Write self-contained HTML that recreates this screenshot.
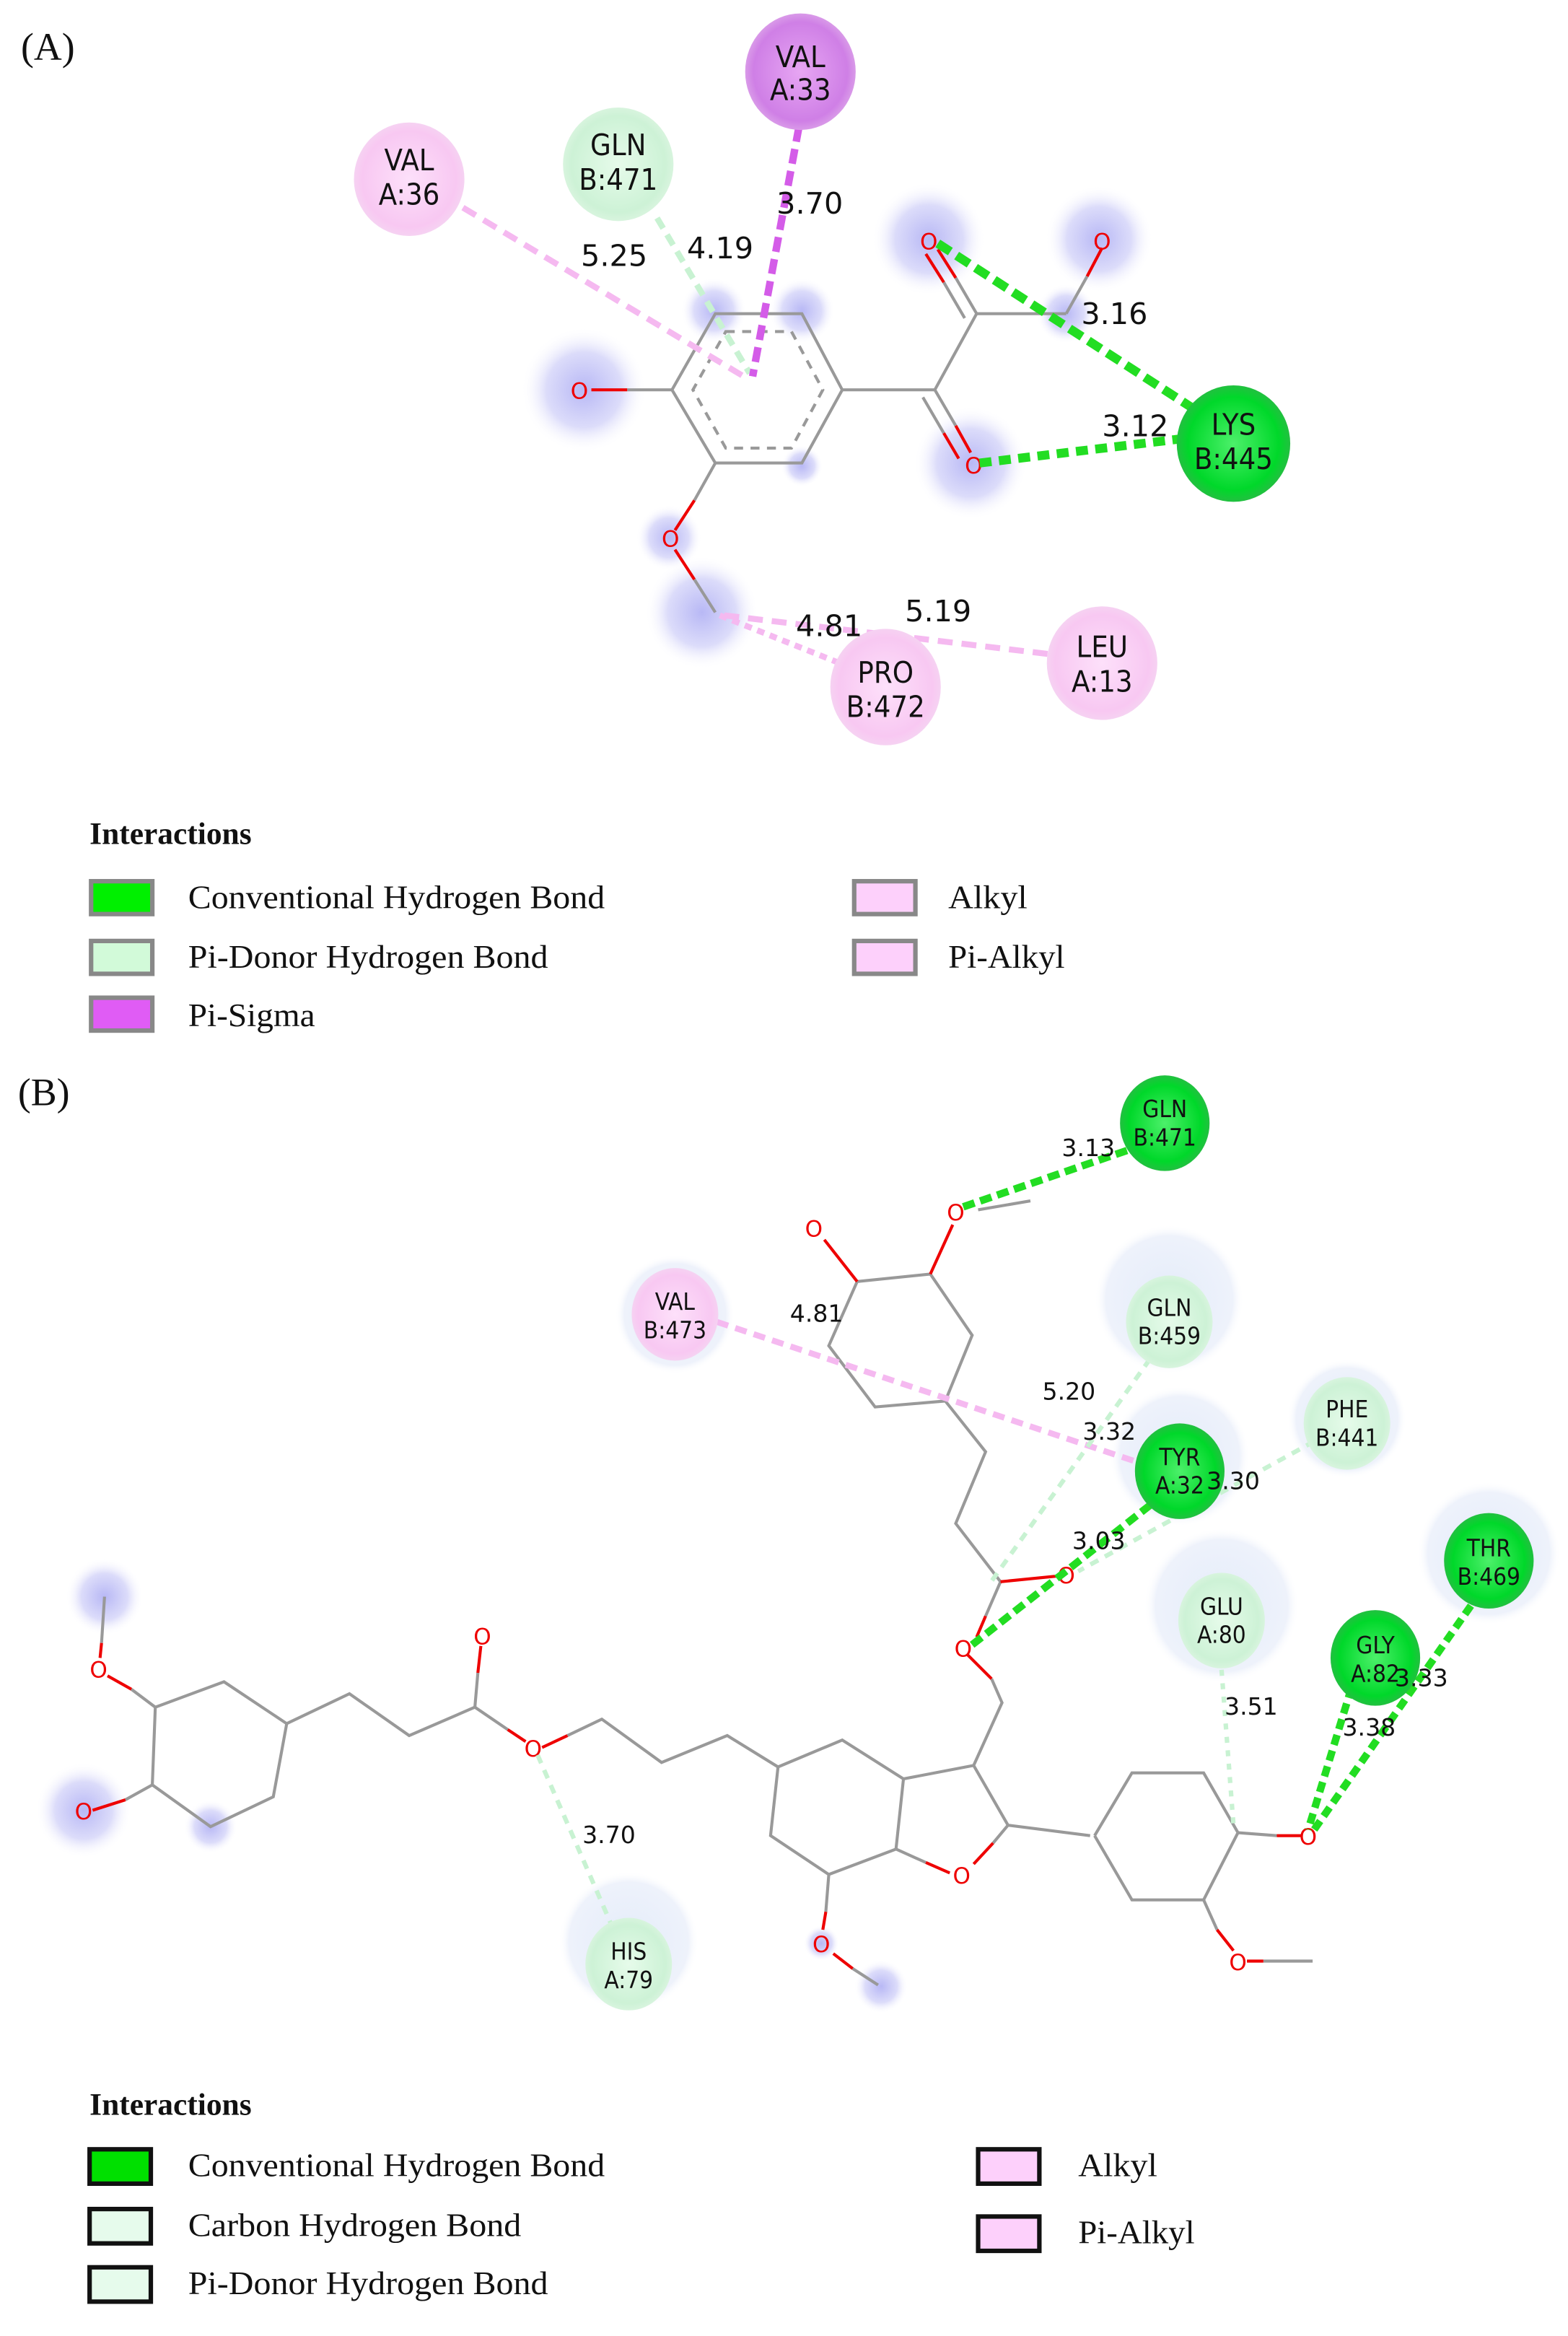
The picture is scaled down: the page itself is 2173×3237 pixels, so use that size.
<!DOCTYPE html>
<html><head><meta charset="utf-8"><style>
html,body{margin:0;padding:0;background:#fff}
svg{display:block}
.lg{font-family:"Liberation Serif",serif;font-size:22px;fill:#111}
.rl{font-family:"DejaVu Sans Condensed","DejaVu Sans",sans-serif;fill:#111;text-anchor:middle}
.d{font-family:"DejaVu Sans","Liberation Sans",sans-serif;fill:#111}
.b{stroke:#999;stroke-width:2;fill:none}
.r{stroke:#e00;stroke-width:2;fill:none}
.o{font-family:"DejaVu Sans",sans-serif;font-size:15px;fill:#e00;text-anchor:middle}
</style></head><body>
<svg width="2173" height="3237" viewBox="0 0 1050 1564" preserveAspectRatio="none" xmlns="http://www.w3.org/2000/svg">
<defs>
<radialGradient id="halo"><stop offset="0" stop-color="#b8b8f5"/><stop offset="0.6" stop-color="#dcdcfa"/><stop offset="1" stop-color="#fff" stop-opacity="0"/></radialGradient>
<radialGradient id="lb"><stop offset="0" stop-color="#e4ecfa"/><stop offset="0.85" stop-color="#eef2fb"/><stop offset="1" stop-color="#fff" stop-opacity="0"/></radialGradient>
<radialGradient id="gr"><stop offset="0" stop-color="#4cf06a"/><stop offset="0.8" stop-color="#00d82a"/><stop offset="1" stop-color="#22c040"/></radialGradient>
<radialGradient id="lg"><stop offset="0" stop-color="#e6fbea"/><stop offset="0.85" stop-color="#cdf2d6"/><stop offset="1" stop-color="#d8f4de"/></radialGradient>
<radialGradient id="pk"><stop offset="0" stop-color="#fde0fa"/><stop offset="0.85" stop-color="#f8c8f2"/><stop offset="1" stop-color="#f6d2f2"/></radialGradient>
<radialGradient id="pu"><stop offset="0" stop-color="#e7a6f3"/><stop offset="0.85" stop-color="#cf7fe6"/><stop offset="1" stop-color="#d99ae8"/></radialGradient>
</defs>

<text x="14" y="40" font-family="Liberation Serif,serif" font-size="26" fill="#111">(A)</text>

<!-- halos A -->
<circle cx="391" cy="261" r="42" fill="url(#halo)"/>
<circle cx="622" cy="160" r="38" fill="url(#halo)"/>
<circle cx="736" cy="160" r="36" fill="url(#halo)"/>
<circle cx="650" cy="310" r="38" fill="url(#halo)"/>
<circle cx="470" cy="410" r="38" fill="url(#halo)"/>
<circle cx="448" cy="360" r="22" fill="url(#halo)"/>
<circle cx="478" cy="208" r="22" fill="url(#halo)"/>
<circle cx="537" cy="208" r="22" fill="url(#halo)"/>
<circle cx="537" cy="312" r="14" fill="url(#halo)"/>
<circle cx="714" cy="210" r="20" fill="url(#halo)"/>

<!-- molecule A -->
<polygon class="b" points="479,210 537,210 564,261 537,310 479,310 450,261"/>
<polygon points="486,222 530,222 551,261 530,300 486,300 464,261" fill="none" stroke="#999" stroke-width="2" stroke-dasharray="6,5"/>
<line class="b" x1="450" y1="261" x2="420" y2="261"/><line class="r" x1="420" y1="261" x2="396" y2="261"/>
<line class="b" x1="564" y1="261" x2="626" y2="261"/>
<line class="b" x1="626" y1="261" x2="640" y2="285"/><line class="r" x1="640" y1="285" x2="650" y2="303"/>
<line class="b" x1="618" y1="266" x2="632" y2="290"/><line class="r" x1="632" y1="290" x2="642" y2="307"/>
<line class="b" x1="626" y1="261" x2="654" y2="210"/>
<line class="b" x1="654" y1="210" x2="640" y2="186"/><line class="r" x1="640" y1="186" x2="628" y2="167"/>
<line class="b" x1="646" y1="213" x2="632" y2="189"/><line class="r" x1="632" y1="189" x2="620" y2="170"/>
<line class="b" x1="654" y1="210" x2="714" y2="210"/>
<line class="b" x1="714" y1="210" x2="728" y2="185"/><line class="r" x1="728" y1="185" x2="738" y2="166"/>
<line class="b" x1="479" y1="310" x2="465" y2="335"/><line class="r" x1="465" y1="335" x2="452" y2="355"/>
<line class="r" x1="452" y1="368" x2="465" y2="388"/><line class="b" x1="465" y1="388" x2="479" y2="410"/>
<text class="o" x="388" y="267">O</text>
<text class="o" x="622" y="167">O</text>
<text class="o" x="738" y="167">O</text>
<text class="o" x="652" y="317">O</text>
<text class="o" x="449" y="366">O</text>

<!-- interactions A -->
<line x1="310" y1="139" x2="498" y2="252" stroke="#f5b9f0" stroke-width="4" stroke-dasharray="10,6"/>
<line x1="440" y1="146" x2="502" y2="250" stroke="#c8f2d2" stroke-width="4" stroke-dasharray="8,5"/>
<line x1="535" y1="85" x2="504" y2="252" stroke="#d45ce8" stroke-width="5" stroke-dasharray="10,5"/>
<line x1="628" y1="163" x2="806" y2="278" stroke="#22dd22" stroke-width="6" stroke-dasharray="10,5"/>
<line x1="656" y1="310" x2="806" y2="292" stroke="#22dd22" stroke-width="6" stroke-dasharray="8,5"/>
<line x1="482" y1="412" x2="590" y2="455" stroke="#f5b9f0" stroke-width="4" stroke-dasharray="5,4"/>
<line x1="485" y1="412" x2="720" y2="440" stroke="#f5b9f0" stroke-width="4" stroke-dasharray="10,6"/>

<!-- residues A -->
<ellipse cx="536" cy="48" rx="37" ry="39" fill="url(#pu)"/>
<text class="rl" x="536" y="45" font-size="20">VAL</text><text class="rl" x="536" y="67" font-size="20">A:33</text>
<ellipse cx="414" cy="110" rx="37" ry="38" fill="url(#lg)"/>
<text class="rl" x="414" y="104" font-size="20">GLN</text><text class="rl" x="414" y="127" font-size="20">B:471</text>
<ellipse cx="274" cy="120" rx="37" ry="38" fill="url(#pk)"/>
<text class="rl" x="274" y="114" font-size="20">VAL</text><text class="rl" x="274" y="137" font-size="20">A:36</text>
<ellipse cx="826" cy="297" rx="38" ry="39" fill="url(#gr)"/>
<text class="rl" x="826" y="291" font-size="20">LYS</text><text class="rl" x="826" y="314" font-size="20">B:445</text>
<ellipse cx="593" cy="460" rx="37" ry="39" fill="url(#pk)"/>
<text class="rl" x="593" y="457" font-size="20">PRO</text><text class="rl" x="593" y="480" font-size="20">B:472</text>
<ellipse cx="738" cy="444" rx="37" ry="38" fill="url(#pk)"/>
<text class="rl" x="738" y="440" font-size="20">LEU</text><text class="rl" x="738" y="463" font-size="20">A:13</text>

<g class="d" font-size="20">
<text x="520" y="143">3.70</text><text x="460" y="173">4.19</text><text x="389" y="178">5.25</text>
<text x="724" y="217">3.16</text><text x="738" y="292">3.12</text>
<text x="533" y="426">4.81</text><text x="606" y="416">5.19</text>
</g>

<!-- legend A -->
<text x="60" y="565" font-family="Liberation Serif,serif" font-size="21" font-weight="bold" fill="#111">Interactions</text>
<g stroke="#888" stroke-width="3">
<rect x="61" y="590" width="41" height="22" fill="#00f000"/>
<rect x="61" y="630" width="41" height="22" fill="#d2fad9"/>
<rect x="61" y="668" width="41" height="22" fill="#e05cf5"/>
<rect x="572" y="590" width="41" height="22" fill="#fdd0fb"/>
<rect x="572" y="630" width="41" height="22" fill="#fdd0fb"/>
</g>
<text class="lg" x="126" y="608" textLength="279" lengthAdjust="spacingAndGlyphs">Conventional Hydrogen Bond</text>
<text class="lg" x="126" y="648" textLength="241" lengthAdjust="spacingAndGlyphs">Pi-Donor Hydrogen Bond</text>
<text class="lg" x="126" y="687" textLength="85" lengthAdjust="spacingAndGlyphs">Pi-Sigma</text>
<text class="lg" x="635" y="608" textLength="53" lengthAdjust="spacingAndGlyphs">Alkyl</text>
<text class="lg" x="635" y="648" textLength="78" lengthAdjust="spacingAndGlyphs">Pi-Alkyl</text>

<!-- ============ B ============ -->
<text x="12" y="740" font-family="Liberation Serif,serif" font-size="26" fill="#111">(B)</text>

<!-- light halos -->
<circle cx="452" cy="880" r="40" fill="url(#lb)"/>
<circle cx="783" cy="870" r="50" fill="url(#lb)"/>
<circle cx="902" cy="950" r="40" fill="url(#lb)"/>
<circle cx="790" cy="975" r="47" fill="url(#lb)"/>
<circle cx="997" cy="1040" r="48" fill="url(#lb)"/>
<circle cx="818" cy="1075" r="52" fill="url(#lb)"/>
<circle cx="421" cy="1300" r="47" fill="url(#lb)"/>
<!-- blue halos -->
<circle cx="70" cy="1069" r="26" fill="url(#halo)"/>
<circle cx="56" cy="1212" r="32" fill="url(#halo)"/>
<circle cx="141" cy="1223" r="18" fill="url(#halo)"/>
<circle cx="590" cy="1330" r="18" fill="url(#halo)"/>
<circle cx="550" cy="1301" r="12" fill="url(#halo)"/>

<!-- molecule B -->
<g class="b">
<polyline points="574,858 623,853 651,894 633,938 586,942 555,901 574,858"/>
<polyline points="633,938 660,972 640,1020 670,1059"/>
<polyline points="664,1124 671,1140 652,1182 675,1222 730,1229"/>
<polyline points="652,1182 605,1191 600,1238"/>
<polyline points="605,1191 564,1165 521,1183 516,1229 555,1255 600,1238"/>
<polyline points="521,1183 487,1162 443,1180 403,1151 380,1162"/>
<polyline points="340,1158 318,1143 274,1162 234,1134 192,1154"/>
<polyline points="192,1154 183,1203 141,1223 102,1195 104,1143 150,1126 192,1154"/>
<polyline points="733,1229 758,1187 806,1187 829,1227 806,1272 758,1272 733,1229"/>
<line x1="829" y1="1227" x2="855" y2="1229"/>
<line x1="690" y1="804" x2="655" y2="810"/>
<line x1="555" y1="1255" x2="553" y2="1280"/>
<line x1="571" y1="1318" x2="588" y2="1329"/>
<line x1="846" y1="1313" x2="879" y2="1313"/>
<line x1="806" y1="1272" x2="815" y2="1292"/>
<line x1="70" y1="1069" x2="68" y2="1100"/>
<line x1="104" y1="1143" x2="88" y2="1131"/>
<line x1="102" y1="1195" x2="84" y2="1205"/>
<line x1="318" y1="1143" x2="320" y2="1120"/>
<line x1="670" y1="1059" x2="660" y2="1082"/>
<line x1="600" y1="1238" x2="620" y2="1247"/>
<line x1="675" y1="1222" x2="665" y2="1234"/>
</g>
<g class="r">
<line x1="574" y1="858" x2="552" y2="830"/>
<line x1="623" y1="853" x2="638" y2="820"/>
<line x1="670" y1="1059" x2="710" y2="1055"/>
<line x1="660" y1="1082" x2="654" y2="1096"/>
<line x1="664" y1="1124" x2="648" y2="1108"/>
<line x1="620" y1="1247" x2="636" y2="1254"/>
<line x1="665" y1="1234" x2="652" y2="1248"/>
<line x1="553" y1="1280" x2="551" y2="1292"/>
<line x1="558" y1="1308" x2="571" y2="1318"/>
<line x1="855" y1="1229" x2="872" y2="1229"/>
<line x1="815" y1="1292" x2="826" y2="1306"/>
<line x1="835" y1="1313" x2="846" y2="1313"/>
<line x1="68" y1="1100" x2="67" y2="1110"/>
<line x1="88" y1="1131" x2="72" y2="1122"/>
<line x1="84" y1="1205" x2="62" y2="1212"/>
<line x1="320" y1="1120" x2="322" y2="1102"/>
<line x1="380" y1="1162" x2="363" y2="1170"/>
<line x1="340" y1="1158" x2="352" y2="1166"/>
</g>
<g class="o" font-size="14">
<text x="545" y="828">O</text><text x="640" y="817">O</text>
<text x="714" y="1060">O</text><text x="645" y="1109">O</text>
<text x="644" y="1261">O</text><text x="550" y="1307">O</text>
<text x="876" y="1235">O</text><text x="829" y="1319">O</text>
<text x="66" y="1123">O</text><text x="56" y="1218">O</text>
<text x="323" y="1101">O</text><text x="357" y="1176">O</text>
</g>

<!-- interactions B -->
<line x1="645" y1="808" x2="770" y2="765" stroke="#22dd22" stroke-width="5" stroke-dasharray="8,4"/>
<line x1="480" y1="885" x2="765" y2="980" stroke="#f5b9f0" stroke-width="4" stroke-dasharray="8,5"/>
<line x1="770" y1="910" x2="663" y2="1060" stroke="#c8f2d2" stroke-width="3" stroke-dasharray="6,5"/>
<line x1="880" y1="965" x2="722" y2="1052" stroke="#c8f2d2" stroke-width="3" stroke-dasharray="6,5"/>
<line x1="780" y1="1000" x2="650" y2="1102" stroke="#22dd22" stroke-width="5" stroke-dasharray="8,4"/>
<line x1="818" y1="1118" x2="826" y2="1222" stroke="#c8f2d2" stroke-width="3" stroke-dasharray="4,5"/>
<line x1="905" y1="1130" x2="876" y2="1225" stroke="#22dd22" stroke-width="5" stroke-dasharray="7,4"/>
<line x1="985" y1="1075" x2="880" y2="1225" stroke="#22dd22" stroke-width="5" stroke-dasharray="7,4"/>
<line x1="360" y1="1175" x2="410" y2="1290" stroke="#c8f2d2" stroke-width="3" stroke-dasharray="6,5"/>

<!-- residues B -->
<ellipse cx="780" cy="752" rx="30" ry="32" fill="url(#gr)"/>
<text class="rl" x="780" y="748" font-size="16">GLN</text><text class="rl" x="780" y="767" font-size="16">B:471</text>
<ellipse cx="452" cy="880" rx="29" ry="31" fill="url(#pk)"/>
<text class="rl" x="452" y="877" font-size="16">VAL</text><text class="rl" x="452" y="896" font-size="16">B:473</text>
<ellipse cx="783" cy="885" rx="29" ry="31" fill="url(#lg)"/>
<text class="rl" x="783" y="881" font-size="16">GLN</text><text class="rl" x="783" y="900" font-size="16">B:459</text>
<ellipse cx="902" cy="953" rx="29" ry="31" fill="url(#lg)"/>
<text class="rl" x="902" y="949" font-size="16">PHE</text><text class="rl" x="902" y="968" font-size="16">B:441</text>
<ellipse cx="790" cy="985" rx="30" ry="32" fill="url(#gr)"/>
<text class="rl" x="790" y="981" font-size="16">TYR</text><text class="rl" x="790" y="1000" font-size="16">A:32</text>
<ellipse cx="997" cy="1045" rx="30" ry="32" fill="url(#gr)"/>
<text class="rl" x="997" y="1042" font-size="16">THR</text><text class="rl" x="997" y="1061" font-size="16">B:469</text>
<ellipse cx="818" cy="1085" rx="29" ry="32" fill="url(#lg)"/>
<text class="rl" x="818" y="1081" font-size="16">GLU</text><text class="rl" x="818" y="1100" font-size="16">A:80</text>
<ellipse cx="921" cy="1110" rx="30" ry="32" fill="url(#gr)"/>
<text class="rl" x="921" y="1107" font-size="16">GLY</text><text class="rl" x="921" y="1126" font-size="16">A:82</text>
<ellipse cx="421" cy="1315" rx="29" ry="31" fill="url(#lg)"/>
<text class="rl" x="421" y="1312" font-size="16">HIS</text><text class="rl" x="421" y="1331" font-size="16">A:79</text>

<g class="d" font-size="16">
<text x="711" y="774">3.13</text><text x="529" y="885">4.81</text><text x="698" y="937">5.20</text>
<text x="725" y="964">3.32</text><text x="808" y="997">3.30</text><text x="718" y="1037">3.03</text>
<text x="820" y="1148">3.51</text><text x="934" y="1129">3.33</text><text x="899" y="1162">3.38</text>
<text x="390" y="1234">3.70</text>
</g>

<!-- legend B -->
<text x="60" y="1416" font-family="Liberation Serif,serif" font-size="21" font-weight="bold" fill="#111">Interactions</text>
<g stroke="#111" stroke-width="3">
<rect x="60" y="1439" width="41" height="23" fill="#00e000"/>
<rect x="60" y="1479" width="41" height="23" fill="#e6fbec"/>
<rect x="60" y="1518" width="41" height="23" fill="#e6fbec"/>
<rect x="655" y="1439" width="41" height="23" fill="#fdd0fb"/>
<rect x="655" y="1484" width="41" height="23" fill="#fdd0fb"/>
</g>
<text class="lg" x="126" y="1457" textLength="279" lengthAdjust="spacingAndGlyphs">Conventional Hydrogen Bond</text>
<text class="lg" x="126" y="1497" textLength="223" lengthAdjust="spacingAndGlyphs">Carbon Hydrogen Bond</text>
<text class="lg" x="126" y="1536" textLength="241" lengthAdjust="spacingAndGlyphs">Pi-Donor Hydrogen Bond</text>
<text class="lg" x="722" y="1457" textLength="53" lengthAdjust="spacingAndGlyphs">Alkyl</text>
<text class="lg" x="722" y="1502" textLength="78" lengthAdjust="spacingAndGlyphs">Pi-Alkyl</text>
</svg>
</body></html>
